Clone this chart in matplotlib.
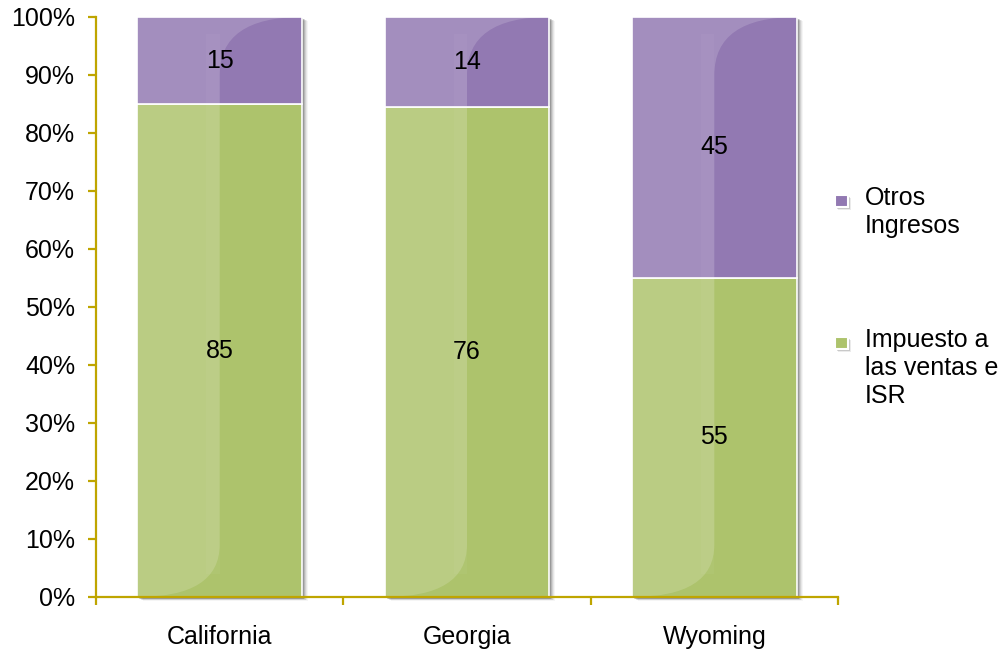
import numpy as np
import matplotlib
matplotlib.use("Agg")
import matplotlib.pyplot as plt
from matplotlib.path import Path
from matplotlib.patches import PathPatch, Rectangle
from matplotlib.transforms import offset_copy

# Data
states = ["California", "Georgia", "Wyoming"]
impuesto = [85, 76, 55]   # Impuesto a las ventas e ISR
otros = [15, 14, 45]      # Otros Ingresos
series_names = ["Otros\nIngresos", "Impuesto a\nlas ventas e\nISR"]

plt.rcParams['font.family'] = ['Liberation Sans', 'DejaVu Sans']
FS = 18

green = "#adc36c"
purple = "#9279b2"
axis_col = "#bfa500"

fig = plt.figure(figsize=(10.04, 6.5), dpi=100)
ax = fig.add_axes([96 / 1004, 1 - 597 / 650, (838 - 96) / 1004, (597 - 17) / 650])

x = np.arange(len(states))
tot = np.array(impuesto) + np.array(otros)
g_pct = np.array(impuesto) / tot * 100
p_pct = np.array(otros) / tot * 100
w = 0.667

# soft drop shadow behind whole bars
for k, a in enumerate([0.20, 0.16, 0.12, 0.09, 0.06, 0.04]):
    tr = offset_copy(ax.transData, fig=fig, x=1 + k, y=-(1 + k * 0.5), units="dots")
    for xi in x:
        ax.add_patch(Rectangle((xi - w / 2, 0), w, 100, facecolor="black", alpha=a, lw=0,
                               transform=tr, zorder=1, clip_on=False))

bars_g = ax.bar(x, g_pct, w, color=green, edgecolor="white", linewidth=1.2, zorder=2)
bars_p = ax.bar(x, p_pct, w, bottom=g_pct, color=purple, edgecolor="white", linewidth=1.2, zorder=2)

# glossy highlight on the left half of each bar
for xi in x:
    xl = xi - w / 2
    H = 100
    verts = [(xl, 0), (xl, H), (xl + w, H),
             (xl + 0.5 * w, H), (xl + 0.5 * w, H - 10),
             (xl + 0.5 * w, 9),
             (xl + 0.5 * w, 0), (xl, 0), (xl, 0)]
    codes = [Path.MOVETO, Path.LINETO, Path.LINETO,
             Path.CURVE3, Path.CURVE3,
             Path.LINETO,
             Path.CURVE3, Path.CURVE3, Path.CLOSEPOLY]
    ax.add_patch(PathPatch(Path(verts, codes), facecolor="white", alpha=0.16, lw=0, zorder=3))
    ax.add_patch(Rectangle((xl + 0.42 * w, 4), 0.08 * w, 93, facecolor="white", alpha=0.035, lw=0, zorder=3))

# value labels
for xi, gv, pv, gp, pp in zip(x, impuesto, otros, g_pct, p_pct):
    ax.text(xi, gp / 2, str(gv), ha="center", va="center", fontsize=FS, zorder=5)
    ax.text(xi, gp + pp / 2, str(pv), ha="center", va="center", fontsize=FS, zorder=5)

ax.set_xlim(-0.5, 2.5)
ax.set_ylim(0, 100)
ax.set_yticks(np.arange(0, 101, 10))
ax.set_yticklabels([f"{v}%" for v in range(0, 101, 10)])
ax.set_xticks(x)
ax.set_xticklabels(states)
ax.set_xticks([-0.5, 0.5, 1.5, 2.5], minor=True)
ax.tick_params(axis="x", which="major", length=0, pad=20, labelsize=FS)
ax.tick_params(axis="x", which="minor", length=6, width=1.6, color=axis_col, direction="out")
ax.tick_params(axis="y", length=6, width=1.6, color=axis_col, pad=9, labelsize=FS)

for s in ["top", "right"]:
    ax.spines[s].set_visible(False)
for s in ["left", "bottom"]:
    ax.spines[s].set_color(axis_col)
    ax.spines[s].set_linewidth(1.6)
    ax.spines[s].set_zorder(4)

# legend
cols = [purple, green]
ys = [201, 343]
for name, col, yy in zip(series_names, cols, ys):
    fy = 1 - yy / 650
    for k, a in enumerate([0.25, 0.15, 0.08]):
        fig.patches.append(Rectangle(((835 + 1 + k) / 1004, fy - (6 + 1 + k) / 650), 13 / 1004, 12 / 650,
                                     transform=fig.transFigure, facecolor="black", alpha=a, lw=0, figure=fig))
    fig.patches.append(Rectangle((835 / 1004, fy - 6 / 650), 13 / 1004, 12 / 650, transform=fig.transFigure,
                                 facecolor=col, edgecolor="white", linewidth=1.5, figure=fig))
    fig.text(865 / 1004, fy + 15 / 650, name, ha="left", va="top", fontsize=FS, linespacing=1.2)

fig.savefig("out.png", dpi=100)
